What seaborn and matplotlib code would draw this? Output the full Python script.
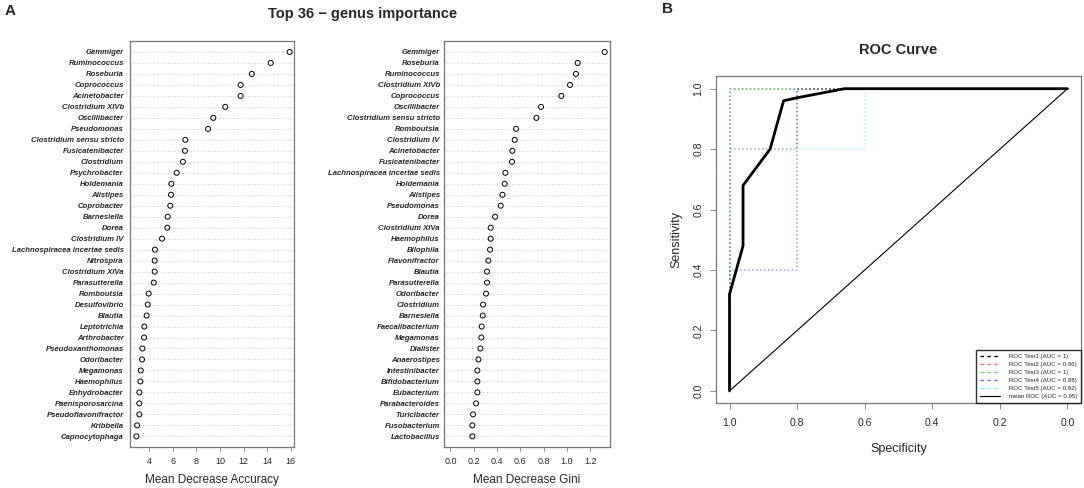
import numpy as np
import pandas as pd
import seaborn as sns
import matplotlib.pyplot as plt
from matplotlib.lines import Line2D

# --- panel A data (random forest importance) ---
acc_genus = ["Gemmiger", "Ruminococcus", "Roseburia", "Coprococcus", "Acinetobacter",
             "Clostridium XIVb", "Oscillibacter", "Pseudomonas", "Clostridium sensu stricto",
             "Fusicatenibacter", "Clostridium", "Psychrobacter", "Holdemania", "Alistipes",
             "Coprobacter", "Barnesiella", "Dorea", "Clostridium IV",
             "Lachnospiracea incertae sedis", "Nitrospira", "Clostridium XIVa", "Parasutterella",
             "Romboutsia", "Desulfovibrio", "Blautia", "Leptotrichia", "Arthrobacter",
             "Pseudoxanthomonas", "Odoribacter", "Megamonas", "Haemophilus", "Enhydrobacter",
             "Paenisporosarcina", "Pseudoflavonifractor", "Kribbella", "Capnocytophaga"]
acc_values = [15.9, 14.3, 12.7, 11.75, 11.75, 10.45, 9.44, 9.0, 7.07, 7.04, 6.87, 6.34,
              5.89, 5.86, 5.8, 5.58, 5.55, 5.1, 4.5, 4.48, 4.48, 4.4, 3.97, 3.89, 3.8,
              3.6, 3.58, 3.44, 3.41, 3.3, 3.27, 3.18, 3.18, 3.18, 2.99, 2.93]

gini_genus = ["Gemmiger", "Roseburia", "Ruminococcus", "Clostridium XIVb", "Coprococcus",
              "Oscillibacter", "Clostridium sensu stricto", "Romboutsia", "Clostridium IV",
              "Acinetobacter", "Fusicatenibacter", "Lachnospiracea incertae sedis", "Holdemania",
              "Alistipes", "Pseudomonas", "Dorea", "Clostridium XIVa", "Haemophilus", "Bilophila",
              "Flavonifractor", "Blautia", "Parasutterella", "Odoribacter", "Clostridium",
              "Barnesiella", "Faecalibacterium", "Megamonas", "Dialister", "Anaerostipes",
              "Intestinibacter", "Bifidobacterium", "Eubacterium", "Parabacteroides",
              "Turicibacter", "Fusobacterium", "Lactobacillus"]
gini_values = [1.322, 1.091, 1.076, 1.025, 0.951, 0.777, 0.737, 0.563, 0.551, 0.531, 0.528,
               0.471, 0.465, 0.446, 0.431, 0.383, 0.345, 0.345, 0.34, 0.325, 0.314, 0.314,
               0.305, 0.28, 0.277, 0.268, 0.265, 0.257, 0.24, 0.231, 0.231, 0.231, 0.22,
               0.194, 0.188, 0.188]

# --- panel B data (ROC curves, specificity / sensitivity) ---
roc_names = ["ROC Test1 (AUC = 1)", "ROC Test2 (AUC = 0.96)", "ROC Test3 (AUC = 1)",
             "ROC Test4 (AUC = 0.88)", "ROC Test5 (AUC = 0.92)"]
roc_spec = [[1, 1, 0],
            [1, 1, 0.8, 0.8, 0],
            [1, 1, 0],
            [1, 1, 0.8, 0.8, 0],
            [1, 1, 0.6, 0.6, 0]]
roc_sens = [[0, 1, 1],
            [0, 0.8, 0.8, 1, 1],
            [0, 1, 1],
            [0, 0.4, 0.4, 1, 1],
            [0, 0.8, 0.8, 1, 1]]
roc_colors = ["black", "red", "#00cd00", "blue", "cyan"]
mean_spec = [1, 1, 0.96, 0.96, 0.88, 0.84, 0.80, 0.66, 0]
mean_sens = [0, 0.32, 0.48, 0.68, 0.80, 0.96, 0.97, 1, 1]
mean_name = "mean ROC (AUC = 0.95)"

sns.set_style("white")
plt.rcParams["font.family"] = ["Liberation Sans", "DejaVu Sans"]

fig = plt.figure(figsize=(10.84, 4.88), dpi=100)
frame_col = "#777777"


def dotchart(ax, names, vals, xlim, xticks, xlabel, pad):
    ax.grid(axis="y", linestyle=(0, (1, 2)), color="#c4c4c4", linewidth=0.6, zorder=0)
    sns.scatterplot(x=vals, y=names, ax=ax, marker="o", s=13, facecolors="none",
                    edgecolor="black", linewidth=0.7, zorder=3)
    ax.set_xlim(*xlim)
    ax.set_ylim(35.97, -1.0)
    ax.set_xticks(xticks)
    ax.set_xlabel(xlabel, fontsize=8.5, labelpad=6)
    ax.set_ylabel("")
    ax.tick_params(axis="y", length=0, labelsize=5.6, pad=pad)
    ax.tick_params(axis="x", direction="out", length=3, width=0.6, color=frame_col,
                   labelsize=6.5, pad=4, bottom=True)
    for lab in ax.get_yticklabels():
        lab.set_fontstyle("italic")
        lab.set_fontweight("bold")
    for s in ax.spines.values():
        s.set_color(frame_col)
        s.set_linewidth(0.9)


ax1 = fig.add_axes([130 / 1084, 41 / 488, 164 / 1084, 406 / 488])
dotchart(ax1, acc_genus, acc_values, (2.39, 16.27), [4, 6, 8, 10, 12, 14, 16],
         "Mean Decrease Accuracy", 4.5)

ax2 = fig.add_axes([444 / 1084, 41 / 488, 166 / 1084, 406 / 488])
dotchart(ax2, gini_genus, gini_values, (-0.055, 1.368), [0.0, 0.2, 0.4, 0.6, 0.8, 1.0, 1.2],
         "Mean Decrease Gini", 3)
ax2.set_xticklabels(["0.0", "0.2", "0.4", "0.6", "0.8", "1.0", "1.2"])

fig.text(363 / 1084, 1 - 14 / 488, "Top 36 \u2212 genus importance", ha="center", va="center",
         fontsize=10.5, fontweight="bold")
fig.text(5 / 1084, 1 - 11 / 488, "A", ha="left", va="center", fontsize=11, fontweight="bold")
fig.text(662 / 1084, 1 - 9 / 488, "B", ha="left", va="center", fontsize=11, fontweight="bold")

# ROC panel
ax3 = fig.add_axes([716 / 1084, 85 / 488, 365 / 1084, 327 / 488])
for name, sp, se, col in zip(roc_names, roc_spec, roc_sens, roc_colors):
    sns.lineplot(x=sp, y=se, ax=ax3, sort=False, estimator=None, color=col, alpha=0.4,
                 linestyle=(0, (1, 1.6)), linewidth=1.1)
sns.lineplot(x=[1, 0], y=[0, 1], ax=ax3, sort=False, estimator=None, color="black",
             linewidth=0.8)
sns.lineplot(x=mean_spec, y=mean_sens, ax=ax3, sort=False, estimator=None, color="black",
             linewidth=2.0)
ax3.set_xlim(1.04, -0.04)
ax3.set_ylim(-0.04, 1.042)
ax3.set_xticks([1.0, 0.8, 0.6, 0.4, 0.2, 0.0])
ax3.set_yticks([0.0, 0.2, 0.4, 0.6, 0.8, 1.0])
ax3.set_xticklabels(["1.0", "0.8", "0.6", "0.4", "0.2", "0.0"])
ax3.set_yticklabels(["0.0", "0.2", "0.4", "0.6", "0.8", "1.0"], rotation=90, va="center")
ax3.tick_params(direction="out", length=4, width=0.6, color=frame_col, labelsize=7.5,
                pad=6.5, bottom=True, left=True)
ax3.tick_params(axis="y", pad=5)
ax3.set_xlabel("Specificity", fontsize=9, labelpad=11)
ax3.set_ylabel("Sensitivity", fontsize=9, labelpad=8)
ax3.set_title("ROC Curve", fontsize=10.5, fontweight="bold", pad=16)
for s in ax3.spines.values():
    s.set_color(frame_col)
    s.set_linewidth(0.9)

handles = [Line2D([], [], color=c, alpha=0.6 if c != "black" else 1.0,
                  linestyle=(0, (2.5, 2.5)), linewidth=1.0) for c in roc_colors]
handles.append(Line2D([], [], color="black", linewidth=0.8))
leg = ax3.legend(handles, roc_names + [mean_name], loc="lower right", fontsize=4.4,
                 frameon=True, fancybox=False, borderaxespad=0, handlelength=3.4,
                 labelspacing=0.45, borderpad=0.6, handletextpad=1.4)
leg.get_frame().set_edgecolor("black")
leg.get_frame().set_linewidth(1.0)

fig.savefig("out.png", dpi=100)
